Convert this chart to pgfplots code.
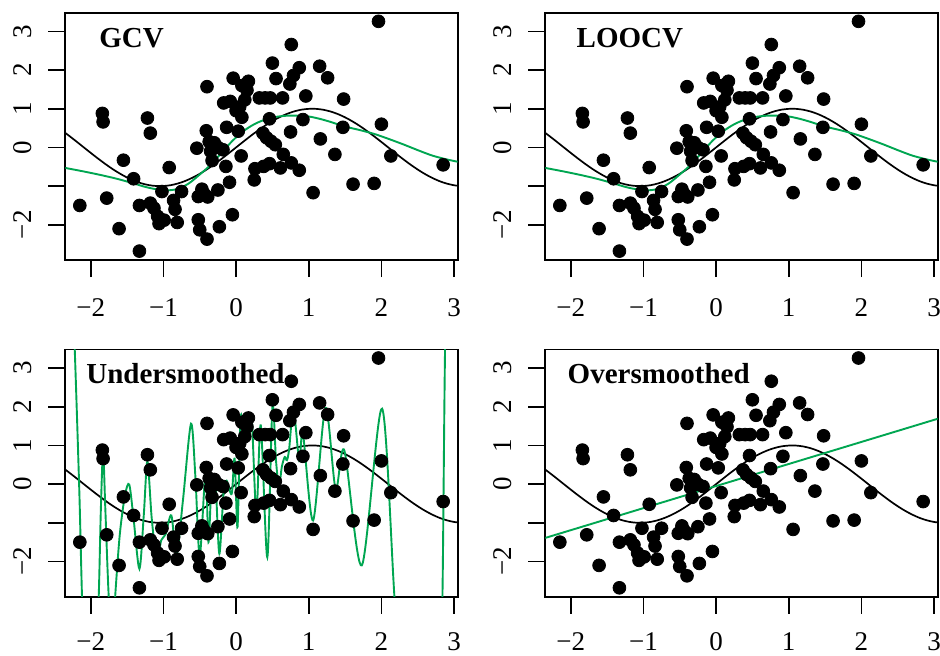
\documentclass[border=0pt]{standalone}
\usepackage{fontspec}
\setmainfont{Liberation Serif}
\usepackage{pgfplots}
\usepackage{pgfplotstable}
\pgfplotsset{compat=1.18}
\definecolor{rgreen}{RGB}{0,166,81}

\pgfplotstableread{
x y
-2.15 -1.50
-1.84 0.88
-1.83 0.66
-1.78 -1.31
-1.61 -2.10
-1.55 -0.33
-1.41 -0.81
-1.33 -2.68
-1.33 -1.50
-1.22 0.76
-1.18 0.37
-1.18 -1.44
-1.13 -1.57
-1.08 -1.78
-1.06 -1.97
-0.99 -1.88
-1.02 -1.14
-0.92 -0.52
-0.86 -1.37
-0.84 -1.60
-0.81 -1.94
-0.75 -1.14
-0.54 -0.02
-0.40 1.57
-0.41 0.43
-0.37 0.15
-0.30 0.12
-0.25 0.00
-0.35 -0.10
-0.33 -0.34
-0.52 -1.27
-0.47 -1.08
-0.44 -1.20
-0.39 -1.28
-0.52 -1.87
-0.50 -2.13
-0.40 -2.37
-0.25 -1.10
-0.23 -2.05
-0.18 -0.06
-0.13 0.52
-0.14 -0.49
-0.09 -0.90
-0.05 -1.74
-0.17 1.15
-0.08 1.19
-0.04 1.79
0.00 0.95
0.03 0.42
0.07 -0.22
0.08 1.60
0.17 1.71
0.15 1.48
0.12 1.23
0.08 0.78
0.05 1.05
0.26 -0.55
0.25 -0.84
0.32 1.28
0.40 1.28
0.47 1.28
0.46 0.74
0.37 0.37
0.42 0.25
0.48 0.16
0.54 0.07
0.38 -0.49
0.46 -0.42
0.61 -0.53
0.64 1.28
0.65 -0.18
0.76 -0.40
0.75 0.40
0.87 -0.59
0.50 2.18
0.55 1.78
0.76 2.66
0.74 1.64
0.79 1.86
0.87 2.06
0.92 0.72
0.96 1.33
1.15 2.10
1.26 1.80
1.06 -1.17
1.16 0.22
1.36 -0.18
1.48 1.25
1.47 0.52
1.61 -0.95
1.90 -0.93
1.96 3.26
2.00 0.60
2.13 -0.22
2.85 -0.45
}\pts

\pgfplotstableread{
x y
-2.35 0.374
-2.3 0.304
-2.2 0.158
-2.1 0.008
-2.0 -0.141
-1.9 -0.287
-1.8 -0.427
-1.7 -0.558
-1.6 -0.675
-1.5 -0.778
-1.4 -0.863
-1.3 -0.929
-1.2 -0.974
-1.1 -0.997
-1.0 -0.997
-0.9 -0.976
-0.8 -0.932
-0.7 -0.867
-0.6 -0.783
-0.5 -0.682
-0.4 -0.565
-0.3 -0.435
-0.2 -0.296
-0.1 -0.149
0 0
0.1 0.149
0.2 0.296
0.3 0.435
0.4 0.565
0.5 0.682
0.6 0.783
0.7 0.867
0.8 0.932
0.9 0.976
1.0 0.997
1.1 0.997
1.2 0.974
1.3 0.929
1.4 0.863
1.5 0.778
1.6 0.675
1.7 0.558
1.8 0.427
1.9 0.287
2.0 0.141
2.1 -0.008
2.2 -0.158
2.3 -0.304
2.4 -0.443
2.5 -0.572
2.6 -0.688
2.7 -0.788
2.8 -0.872
2.9 -0.935
3.0 -0.978
3.05 -0.990
}\truth

\pgfplotstableread{
x y
-2.35 -0.53
-2.1 -0.62
-1.87 -0.71
-1.64 -0.81
-1.41 -0.93
-1.25 -1.02
-1.1 -1.08
-0.95 -1.11
-0.8 -1.07
-0.65 -0.93
-0.5 -0.70
-0.35 -0.45
-0.2 -0.14
-0.05 0.17
0.1 0.42
0.25 0.60
0.4 0.72
0.55 0.79
0.7 0.82
0.85 0.82
1.0 0.80
1.15 0.74
1.3 0.66
1.5 0.54
1.7 0.45
1.9 0.35
2.1 0.22
2.3 0.08
2.5 -0.07
2.7 -0.21
2.9 -0.31
3.05 -0.37
}\gcvtab

\pgfplotstableread{
x y
-2.35 -0.53
-2.1 -0.62
-1.87 -0.71
-1.64 -0.81
-1.41 -0.93
-1.25 -1.02
-1.1 -1.08
-0.95 -1.11
-0.8 -1.07
-0.65 -0.93
-0.5 -0.70
-0.35 -0.45
-0.2 -0.14
-0.05 0.17
0.1 0.42
0.25 0.60
0.4 0.72
0.55 0.79
0.7 0.82
0.85 0.82
1.0 0.80
1.15 0.74
1.3 0.66
1.5 0.54
1.7 0.45
1.9 0.35
2.1 0.22
2.3 0.08
2.5 -0.07
2.7 -0.21
2.9 -0.31
3.05 -0.37
}\loocvtab

\pgfplotstableread{
x y
-2.35 9
-2.24 4.5
-2.16 0
-2.10 -4
-2.00 -6
-1.93 -4.5
-1.89 -2.9
-1.86 -0.6
-1.83 0.83
-1.80 -0.6
-1.76 -2.6
-1.72 -4
-1.69 -3.8
-1.66 -2.8
-1.60 -1.3
-1.53 -0.3
-1.47 -0.01
-1.41 -0.9
-1.33 -2.19
-1.27 -0.8
-1.22 0.59
-1.16 -0.9
-1.09 -1.97
-1.03 -1.45
-0.97 -1.30
-0.89 -0.81
-0.82 -1.84
-0.73 -0.4
-0.62 1.56
-0.56 0.2
-0.50 -1.86
-0.42 0.30
-0.38 -1.5
-0.34 -0.05
-0.31 -0.15
-0.28 -0.03
-0.23 -1.80
-0.17 -0.16
-0.13 0.09
-0.06 -0.25
-0.02 0.66
0.02 -1.11
0.06 1.69
0.10 1.39
0.16 1.52
0.19 1.35
0.22 1.56
0.28 -0.77
0.34 1.52
0.43 -1.89
0.50 1.99
0.55 0.60
0.59 -0.05
0.63 0.45
0.67 0.70
0.70 0.62
0.73 0.90
0.79 1.93
0.87 0.61
0.92 1.30
1.06 -0.94
1.23 1.97
1.37 -0.12
1.49 0.87
1.73 -2.10
2.01 1.95
2.19 -3.2
2.35 -6
2.6 -7
2.80 -5
2.84 -2.9
2.88 4
2.95 9
}\undertab

\pgfplotstableread{
x y
-2.35 -1.39
3.05 1.69
}\overtab

\tikzset{ttl/.style={anchor=base west, font=\bfseries\fontsize{14.5}{16}\selectfont, inner sep=0pt}}

\pgfplotsset{
  rstyle/.style={
    scale only axis, width=196.2pt, height=123.6pt,
    anchor=south west,
    xmin=-2.35, xmax=3.05, ymin=-2.91, ymax=3.48,
    axis line style={line width=0.85pt},
    every tick/.style={line width=0.85pt, black},
    major tick length=8.5pt, tick align=outside,
    xtick pos=bottom, ytick pos=left,
    xtick={-2,-1,0,1,2,3}, xticklabels={−2,−1,0,1,2,3},
    ytick={-2,-1,0,1,2,3}, yticklabels={−2,,0,1,2,3},
    tick label style={font=\fontsize{13.5}{15}\selectfont},
    xticklabel style={anchor=base, yshift=-19.8pt},
    yticklabel style={xshift=-8.3pt, rotate=90, anchor=base},
    clip=true,
  },
  lowrow/.style={xticklabel style={yshift=1.2pt}},
}

\begin{document}
\begin{tikzpicture}
\path[use as bounding box] (0,0) rectangle (470pt,327.5pt);

\begin{axis}[rstyle, at={(32.65pt,197.5pt)}]
\addplot[only marks, mark=*, mark size=3.2pt, black] table {\pts};
\addplot[black, line width=0.85pt, smooth] table {\truth};
\addplot[rgreen, line width=0.95pt, smooth] table {\gcvtab};
\node[ttl, xshift=16.85pt, yshift=-17.5pt] at (rel axis cs:0,1) {GCV};
\end{axis}

\begin{axis}[rstyle, at={(272.65pt,197.5pt)}]
\addplot[only marks, mark=*, mark size=3.2pt, black] table {\pts};
\addplot[black, line width=0.85pt, smooth] table {\truth};
\addplot[rgreen, line width=0.95pt, smooth] table {\loocvtab};
\node[ttl, xshift=15.5pt, yshift=-17.5pt] at (rel axis cs:0,1) {LOOCV};
\end{axis}

\begin{axis}[rstyle, lowrow, at={(32.65pt,29.15pt)}]
\addplot[only marks, mark=*, mark size=3.2pt, black] table {\pts};
\addplot[black, line width=0.85pt, smooth] table {\truth};
\addplot[rgreen, line width=0.95pt, smooth] table {\undertab};
\node[ttl, xshift=10.35pt, yshift=-17pt] at (rel axis cs:0,1) {Undersmoothed};
\end{axis}

\begin{axis}[rstyle, lowrow, at={(272.65pt,29.15pt)}]
\addplot[only marks, mark=*, mark size=3.2pt, black] table {\pts};
\addplot[black, line width=0.85pt, smooth] table {\truth};
\addplot[rgreen, line width=0.95pt] table {\overtab};
\node[ttl, xshift=11pt, yshift=-17pt] at (rel axis cs:0,1) {Oversmoothed};
\end{axis}
\end{tikzpicture}
\end{document}
